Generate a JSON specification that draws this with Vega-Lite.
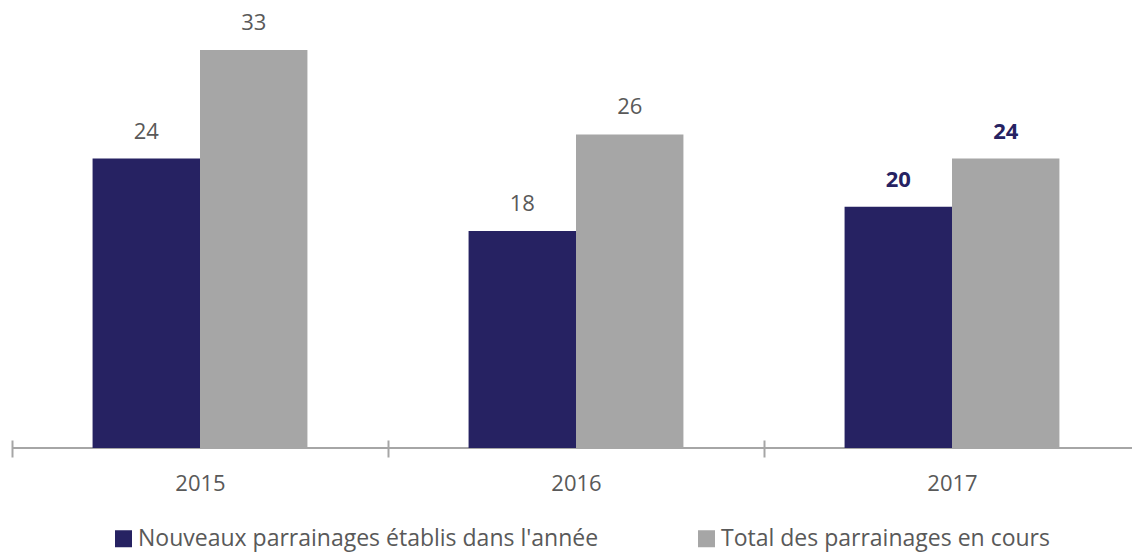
{
  "$schema": "https://vega.github.io/schema/vega-lite/v6.json",
  "width": 1120,
  "height": 398,
  "autosize": {"type": "none"},
  "padding": {"left": 12, "top": 50, "right": 0, "bottom": 105},
  "background": "white",
  "config": {
    "font": "Open Sans",
    "view": {"stroke": null}
  },
  "data": {
    "values": [
      {"year": "2015", "series": "Nouveaux parrainages établis dans l'année", "value": 24},
      {"year": "2015", "series": "Total des parrainages en cours", "value": 33},
      {"year": "2016", "series": "Nouveaux parrainages établis dans l'année", "value": 18},
      {"year": "2016", "series": "Total des parrainages en cours", "value": 26},
      {"year": "2017", "series": "Nouveaux parrainages établis dans l'année", "value": 20},
      {"year": "2017", "series": "Total des parrainages en cours", "value": 24}
    ]
  },
  "layer": [
    {
      "mark": {"type": "rule", "color": "#A6A6A6", "strokeWidth": 2},
      "encoding": {"y": {"datum": 0, "type": "quantitative", "scale": {"domain": [0, 33], "nice": false}, "axis": null}}
    },
    {
      "mark": {"type": "bar"},
      "encoding": {
        "x": {
          "field": "year",
          "type": "nominal",
          "scale": {"paddingInner": 0, "paddingOuter": 0, "range": [0, 1128]},
          "axis": {
            "title": null,
            "labelAngle": 0,
            "domain": false,
            "offset": -8,
            "tickBand": "extent",
            "tickSize": 17,
            "tickColor": "#A6A6A6",
            "tickWidth": 2,
            "labelPadding": 16,
            "labelFontSize": 22,
            "labelColor": "#595959",
            "labelFont": "Open Sans"
          }
        },
        "xOffset": {
          "field": "series",
          "type": "nominal",
          "scale": {"paddingInner": 0, "paddingOuter": 0.75}
        },
        "y": {
          "field": "value",
          "type": "quantitative",
          "scale": {"domain": [0, 33], "nice": false},
          "axis": null
        },
        "color": {
          "field": "series",
          "type": "nominal",
          "scale": {
            "domain": ["Nouveaux parrainages établis dans l'année", "Total des parrainages en cours"],
            "range": ["#262262", "#A6A6A6"]
          },
          "legend": {
            "title": null,
            "orient": "none",
            "direction": "horizontal",
            "legendX": 100,
            "legendY": 477,
            "symbolType": "square",
            "symbolSize": 289,
            "symbolStrokeWidth": 0,
            "labelFontSize": 23,
            "labelColor": "#595959",
            "labelFont": "Open Sans",
            "labelLimit": 700,
            "columnPadding": 96,
            "labelOffset": 3
          }
        }
      }
    },
    {
      "transform": [{"filter": "datum.year != '2017'"}],
      "mark": {"type": "text", "baseline": "bottom", "dy": -15, "fontSize": 22, "font": "Open Sans", "color": "#595959"},
      "encoding": {
        "x": {"field": "year", "type": "nominal"},
        "xOffset": {"field": "series", "type": "nominal"},
        "y": {"field": "value", "type": "quantitative"},
        "text": {"field": "value", "type": "quantitative"}
      }
    },
    {
      "transform": [{"filter": "datum.year == '2017'"}],
      "mark": {"type": "text", "baseline": "bottom", "dy": -15, "fontSize": 22, "font": "Open Sans", "fontWeight": "bold", "color": "#262262"},
      "encoding": {
        "x": {"field": "year", "type": "nominal"},
        "xOffset": {"field": "series", "type": "nominal"},
        "y": {"field": "value", "type": "quantitative"},
        "text": {"field": "value", "type": "quantitative"}
      }
    }
  ]
}
